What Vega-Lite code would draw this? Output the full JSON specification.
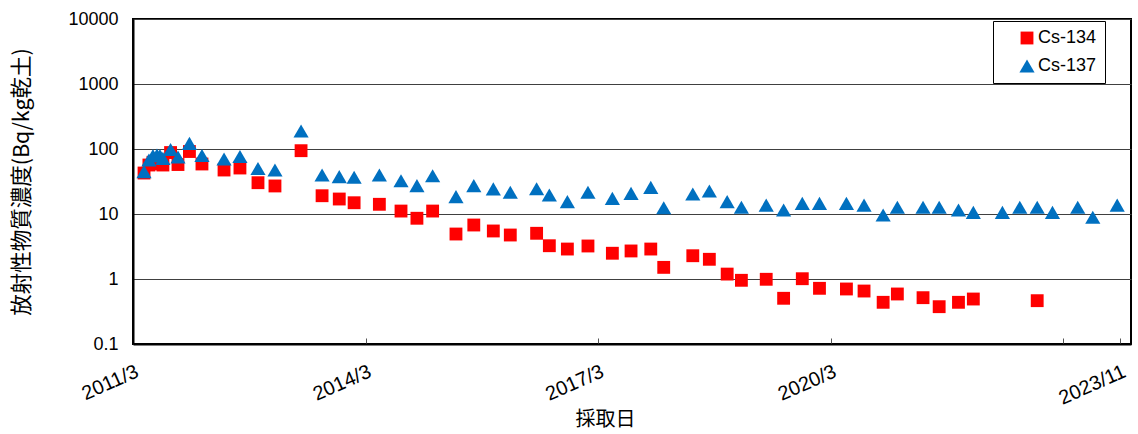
{
  "$schema": "https://vega.github.io/schema/vega-lite/v6.json",
  "width": 998,
  "height": 325,
  "autosize": {"type": "none"},
  "padding": {"left": 133, "top": 19, "right": 7, "bottom": 90},
  "background": "white",
  "config": {
    "view": {"stroke": "black", "strokeWidth": 2},
    "font": "Liberation Sans"
  },
  "data": {"values": [
    {"date": "2011-04-22", "nuclide": "Cs-134", "value": 42.7},
    {"date": "2011-05-15", "nuclide": "Cs-134", "value": 56.7},
    {"date": "2011-06-03", "nuclide": "Cs-134", "value": 62.4},
    {"date": "2011-06-22", "nuclide": "Cs-134", "value": 60.7},
    {"date": "2011-07-06", "nuclide": "Cs-134", "value": 58.9},
    {"date": "2011-07-20", "nuclide": "Cs-134", "value": 56.7},
    {"date": "2011-08-25", "nuclide": "Cs-134", "value": 88.2},
    {"date": "2011-09-29", "nuclide": "Cs-134", "value": 57.7},
    {"date": "2011-11-22", "nuclide": "Cs-134", "value": 91.5},
    {"date": "2012-01-20", "nuclide": "Cs-134", "value": 58.8},
    {"date": "2012-05-03", "nuclide": "Cs-134", "value": 47.5},
    {"date": "2012-07-17", "nuclide": "Cs-134", "value": 51.0},
    {"date": "2012-10-10", "nuclide": "Cs-134", "value": 30.3},
    {"date": "2012-12-29", "nuclide": "Cs-134", "value": 27.0},
    {"date": "2013-05-01", "nuclide": "Cs-134", "value": 94.2},
    {"date": "2013-08-08", "nuclide": "Cs-134", "value": 19.1},
    {"date": "2013-10-28", "nuclide": "Cs-134", "value": 17.0},
    {"date": "2014-01-06", "nuclide": "Cs-134", "value": 14.9},
    {"date": "2014-05-05", "nuclide": "Cs-134", "value": 14.1},
    {"date": "2014-08-15", "nuclide": "Cs-134", "value": 11.1},
    {"date": "2014-10-29", "nuclide": "Cs-134", "value": 8.6},
    {"date": "2015-01-11", "nuclide": "Cs-134", "value": 11.1},
    {"date": "2015-05-01", "nuclide": "Cs-134", "value": 4.92},
    {"date": "2015-07-24", "nuclide": "Cs-134", "value": 6.77},
    {"date": "2015-10-24", "nuclide": "Cs-134", "value": 5.48},
    {"date": "2016-01-12", "nuclide": "Cs-134", "value": 4.75},
    {"date": "2016-05-15", "nuclide": "Cs-134", "value": 5.05},
    {"date": "2016-07-14", "nuclide": "Cs-134", "value": 3.25},
    {"date": "2016-10-07", "nuclide": "Cs-134", "value": 2.89},
    {"date": "2017-01-12", "nuclide": "Cs-134", "value": 3.22},
    {"date": "2017-05-07", "nuclide": "Cs-134", "value": 2.49},
    {"date": "2017-08-03", "nuclide": "Cs-134", "value": 2.70},
    {"date": "2017-11-04", "nuclide": "Cs-134", "value": 2.89},
    {"date": "2018-01-04", "nuclide": "Cs-134", "value": 1.51},
    {"date": "2018-05-21", "nuclide": "Cs-134", "value": 2.28},
    {"date": "2018-08-07", "nuclide": "Cs-134", "value": 2.01},
    {"date": "2018-10-30", "nuclide": "Cs-134", "value": 1.19},
    {"date": "2019-01-05", "nuclide": "Cs-134", "value": 0.955},
    {"date": "2019-05-02", "nuclide": "Cs-134", "value": 0.99},
    {"date": "2019-07-23", "nuclide": "Cs-134", "value": 0.505},
    {"date": "2019-10-19", "nuclide": "Cs-134", "value": 1.01},
    {"date": "2020-01-08", "nuclide": "Cs-134", "value": 0.719},
    {"date": "2020-05-14", "nuclide": "Cs-134", "value": 0.702},
    {"date": "2020-08-05", "nuclide": "Cs-134", "value": 0.653},
    {"date": "2020-11-03", "nuclide": "Cs-134", "value": 0.438},
    {"date": "2021-01-09", "nuclide": "Cs-134", "value": 0.588},
    {"date": "2021-05-10", "nuclide": "Cs-134", "value": 0.516},
    {"date": "2021-07-25", "nuclide": "Cs-134", "value": 0.375},
    {"date": "2021-10-24", "nuclide": "Cs-134", "value": 0.438},
    {"date": "2022-01-02", "nuclide": "Cs-134", "value": 0.492},
    {"date": "2022-10-30", "nuclide": "Cs-134", "value": 0.464},
    {"date": "2011-04-22", "nuclide": "Cs-137", "value": 44.8},
    {"date": "2011-05-15", "nuclide": "Cs-137", "value": 67.7},
    {"date": "2011-06-03", "nuclide": "Cs-137", "value": 78.9},
    {"date": "2011-06-22", "nuclide": "Cs-137", "value": 80.9},
    {"date": "2011-07-06", "nuclide": "Cs-137", "value": 78.9},
    {"date": "2011-07-20", "nuclide": "Cs-137", "value": 71.9},
    {"date": "2011-08-25", "nuclide": "Cs-137", "value": 98.3},
    {"date": "2011-09-29", "nuclide": "Cs-137", "value": 75.3},
    {"date": "2011-11-22", "nuclide": "Cs-137", "value": 122},
    {"date": "2012-01-20", "nuclide": "Cs-137", "value": 79.4},
    {"date": "2012-05-03", "nuclide": "Cs-137", "value": 70.2},
    {"date": "2012-07-17", "nuclide": "Cs-137", "value": 76.7},
    {"date": "2012-10-10", "nuclide": "Cs-137", "value": 50.1},
    {"date": "2012-12-29", "nuclide": "Cs-137", "value": 47.5},
    {"date": "2013-05-01", "nuclide": "Cs-137", "value": 189},
    {"date": "2013-08-08", "nuclide": "Cs-137", "value": 39.8},
    {"date": "2013-10-28", "nuclide": "Cs-137", "value": 37.5},
    {"date": "2014-01-06", "nuclide": "Cs-137", "value": 36.7},
    {"date": "2014-05-05", "nuclide": "Cs-137", "value": 39.8},
    {"date": "2014-08-15", "nuclide": "Cs-137", "value": 32.5},
    {"date": "2014-10-29", "nuclide": "Cs-137", "value": 27.3},
    {"date": "2015-01-11", "nuclide": "Cs-137", "value": 38.8},
    {"date": "2015-05-01", "nuclide": "Cs-137", "value": 18.5},
    {"date": "2015-07-24", "nuclide": "Cs-137", "value": 27.3},
    {"date": "2015-10-24", "nuclide": "Cs-137", "value": 24.3},
    {"date": "2016-01-12", "nuclide": "Cs-137", "value": 21.6},
    {"date": "2016-05-15", "nuclide": "Cs-137", "value": 24.5},
    {"date": "2016-07-14", "nuclide": "Cs-137", "value": 19.6},
    {"date": "2016-10-07", "nuclide": "Cs-137", "value": 15.5},
    {"date": "2017-01-12", "nuclide": "Cs-137", "value": 21.6},
    {"date": "2017-05-07", "nuclide": "Cs-137", "value": 17.4},
    {"date": "2017-08-03", "nuclide": "Cs-137", "value": 20.8},
    {"date": "2017-11-04", "nuclide": "Cs-137", "value": 25.7},
    {"date": "2018-01-04", "nuclide": "Cs-137", "value": 12.5},
    {"date": "2018-05-21", "nuclide": "Cs-137", "value": 20.3},
    {"date": "2018-08-07", "nuclide": "Cs-137", "value": 22.6},
    {"date": "2018-10-30", "nuclide": "Cs-137", "value": 15.5},
    {"date": "2019-01-05", "nuclide": "Cs-137", "value": 12.7},
    {"date": "2019-05-02", "nuclide": "Cs-137", "value": 13.7},
    {"date": "2019-07-23", "nuclide": "Cs-137", "value": 11.5},
    {"date": "2019-10-19", "nuclide": "Cs-137", "value": 14.6},
    {"date": "2020-01-08", "nuclide": "Cs-137", "value": 14.6},
    {"date": "2020-05-14", "nuclide": "Cs-137", "value": 14.6},
    {"date": "2020-08-05", "nuclide": "Cs-137", "value": 13.7},
    {"date": "2020-11-03", "nuclide": "Cs-137", "value": 9.66},
    {"date": "2021-01-09", "nuclide": "Cs-137", "value": 12.7},
    {"date": "2021-05-10", "nuclide": "Cs-137", "value": 12.7},
    {"date": "2021-07-25", "nuclide": "Cs-137", "value": 12.7},
    {"date": "2021-10-24", "nuclide": "Cs-137", "value": 11.5},
    {"date": "2022-01-02", "nuclide": "Cs-137", "value": 10.6},
    {"date": "2022-05-19", "nuclide": "Cs-137", "value": 10.6},
    {"date": "2022-08-09", "nuclide": "Cs-137", "value": 12.7},
    {"date": "2022-10-30", "nuclide": "Cs-137", "value": 12.7},
    {"date": "2023-01-10", "nuclide": "Cs-137", "value": 10.6},
    {"date": "2023-05-09", "nuclide": "Cs-137", "value": 12.7},
    {"date": "2023-07-19", "nuclide": "Cs-137", "value": 8.9},
    {"date": "2023-11-11", "nuclide": "Cs-137", "value": 13.7}
  ]},
  "mark": {"type": "point", "filled": true, "opacity": 1},
  "encoding": {
    "x": {
      "field": "date",
      "type": "temporal",
      "scale": {"domain": [{"year": 2011, "month": 3, "date": 1}, {"year": 2024, "month": 1, "date": 15}]},
      "axis": {
        "title": "採取日",
        "titleFont": "Noto Sans CJK JP",
        "titleFontSize": 20,
        "titleFontWeight": "normal",
        "titleColor": "black",
        "titleX": 472,
        "titleY": 65,
        "titleBaseline": "top",
        "grid": false,
        "domainColor": "black",
        "domainWidth": 2,
        "ticks": true,
        "tickColor": "#555555",
        "tickSize": -6,
        "values": [
          {"year": 2011, "month": 3, "date": 1},
          {"year": 2014, "month": 3, "date": 1},
          {"year": 2017, "month": 3, "date": 1},
          {"year": 2020, "month": 3, "date": 1},
          {"year": 2023, "month": 3, "date": 1},
          {"year": 2023, "month": 11, "date": 25}
        ],
        "labelExpr": "month(datum.value) == 2 && year(datum.value) == 2023 ? '' : timeFormat(datum.value, '%Y/') + (month(datum.value) + 1)",
        "labelAngle": -24,
        "labelAlign": "right",
        "labelBaseline": "top",
        "labelFontSize": 20,
        "labelColor": "black",
        "labelPadding": 23,
        "labelOverlap": false,
        "labelFlush": false
      }
    },
    "y": {
      "field": "value",
      "type": "quantitative",
      "scale": {"type": "log", "domain": [0.1, 10000]},
      "axis": {
        "title": "放射性物質濃度(Bq/kg乾土)",
        "titleFont": "Noto Sans CJK JP",
        "titleFontSize": 21.5,
        "titleFontWeight": "normal",
        "titleColor": "black",
        "titlePadding": 34,
        "values": [0.1, 1, 10, 100, 1000, 10000],
        "format": "~g",
        "grid": true,
        "gridColor": "#404040",
        "gridWidth": 1,
        "domainColor": "black",
        "domainWidth": 2,
        "ticks": false,
        "labelFontSize": 18,
        "labelColor": "black",
        "labelPadding": 15
      }
    },
    "size": {
      "field": "nuclide",
      "type": "nominal",
      "scale": {"domain": ["Cs-134", "Cs-137"], "range": [165, 230]},
      "legend": null
    },
    "color": {
      "field": "nuclide",
      "type": "nominal",
      "scale": {"domain": ["Cs-134", "Cs-137"], "range": ["#FF0000", "#0070C0"]},
      "legend": {
        "title": null,
        "orient": "none",
        "legendX": 860,
        "legendY": 2,
        "padding": 8,
        "symbolOffset": 17,
        "strokeColor": "black",
        "fillColor": "white",
        "labelFontSize": 18,
        "labelColor": "black",
        "symbolSize": 120,
        "rowPadding": 10,
        "labelOffset": 2
      }
    },
    "shape": {
      "field": "nuclide",
      "type": "nominal",
      "scale": {"domain": ["Cs-134", "Cs-137"], "range": ["square", "triangle-up"]},
      "legend": {
        "title": null,
        "orient": "none",
        "legendX": 860,
        "legendY": 2
      }
    }
  }
}
